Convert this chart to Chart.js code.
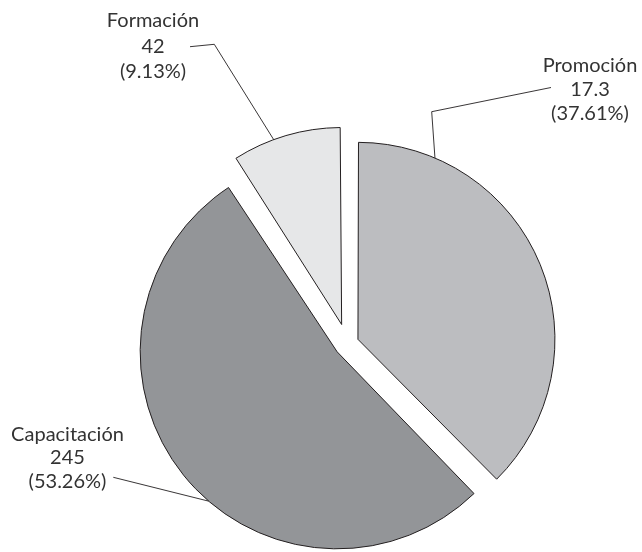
<!DOCTYPE html>
<html><head><meta charset="utf-8">
<script src="https://cdn.jsdelivr.net/npm/chart.js@4"></script>
<style>html,body{margin:0;padding:0;background:#fff;}#wrap{width:642px;height:552px;}</style>
</head><body><div id="wrap"><canvas id="c" width="642" height="552"></canvas></div>
<script>
// ---- data ----
const categories = ['Promoción', 'Capacitación', 'Formación'];
const valueLabels = ['17.3', '245', '42'];
const shares = [37.61, 53.26, 9.13];

// ---- style / layout ----
const sliceColors = ['#bcbdc0', '#939598', '#e6e7e8'];
const explode = [11.5, 13, 20];      // px each slice is pulled out
const RADIUS = 197;
const labelLayout = [
  {x: 590, y: 71.5, dy: 24, line: [[551, 87.5], [431.7, 111.7]], at: 0.17},
  {x: 67.5, y: 440.7, dy: 23.5, line: [[113.3, 477.3]], at: 0.445},
  {x: 153, y: 27, dy: 25.5, line: [[190, 46.7], [214.3, 44.3]], at: 0.386}
];

const fixRadius = {
  id: 'fixRadius',
  afterDatasetUpdate(chart, args) {
    const meta = chart.getDatasetMeta(args.index);
    meta.data.forEach((arc, i) => {
      const o = explode[i];
      const fix = 1 - Math.sin(Math.min(Math.PI, arc.circumference));
      arc.outerRadius = RADIUS - o * fix;
    });
  }
};

const pieLabels = {
  id: 'pieLabels',
  afterDatasetsDraw(chart) {
    const ctx = chart.ctx;
    const meta = chart.getDatasetMeta(0);
    ctx.save();
    meta.data.forEach((arc, i) => {
      const L = labelLayout[i];
      const t = explode[i];
      const mid = (arc.startAngle + arc.endAngle) / 2;
      const a = arc.startAngle + (arc.endAngle - arc.startAngle) * L.at;
      const ax = arc.x + Math.cos(mid) * t + Math.cos(a) * RADIUS;
      const ay = arc.y + Math.sin(mid) * t + Math.sin(a) * RADIUS;
      ctx.beginPath();
      ctx.moveTo(L.line[0][0], L.line[0][1]);
      for (let k = 1; k < L.line.length; k++) ctx.lineTo(L.line[k][0], L.line[k][1]);
      ctx.lineTo(ax, ay);
      ctx.strokeStyle = '#231f20';
      ctx.lineWidth = 0.9;
      ctx.stroke();
      ctx.fillStyle = '#333333';
      ctx.font = '20px Lato';
      ctx.textAlign = 'center';
      ctx.textBaseline = 'alphabetic';
      const lines = [categories[i], valueLabels[i], '(' + shares[i].toFixed(2) + '%)'];
      lines.forEach((s, j) => ctx.fillText(s, L.x, L.y + j * L.dy));
    });
    ctx.restore();
  }
};

new Chart(document.getElementById('c'), {
  type: 'pie',
  data: {
    labels: categories,
    datasets: [{
      data: shares,
      backgroundColor: sliceColors,
      borderColor: '#231f20',
      borderWidth: 1,
      borderJoinStyle: 'miter',
      offset: explode.map(v => v * 4),
      hoverOffset: 0
    }]
  },
  options: {
    responsive: false,
    animation: false,
    events: [],
    radius: RADIUS,
    layout: {padding: {left: 52.6, top: 135.4, right: 0, bottom: 0}},
    plugins: {legend: {display: false}, tooltip: {enabled: false}}
  },
  plugins: [fixRadius, pieLabels]
});
</script>
</body></html>
